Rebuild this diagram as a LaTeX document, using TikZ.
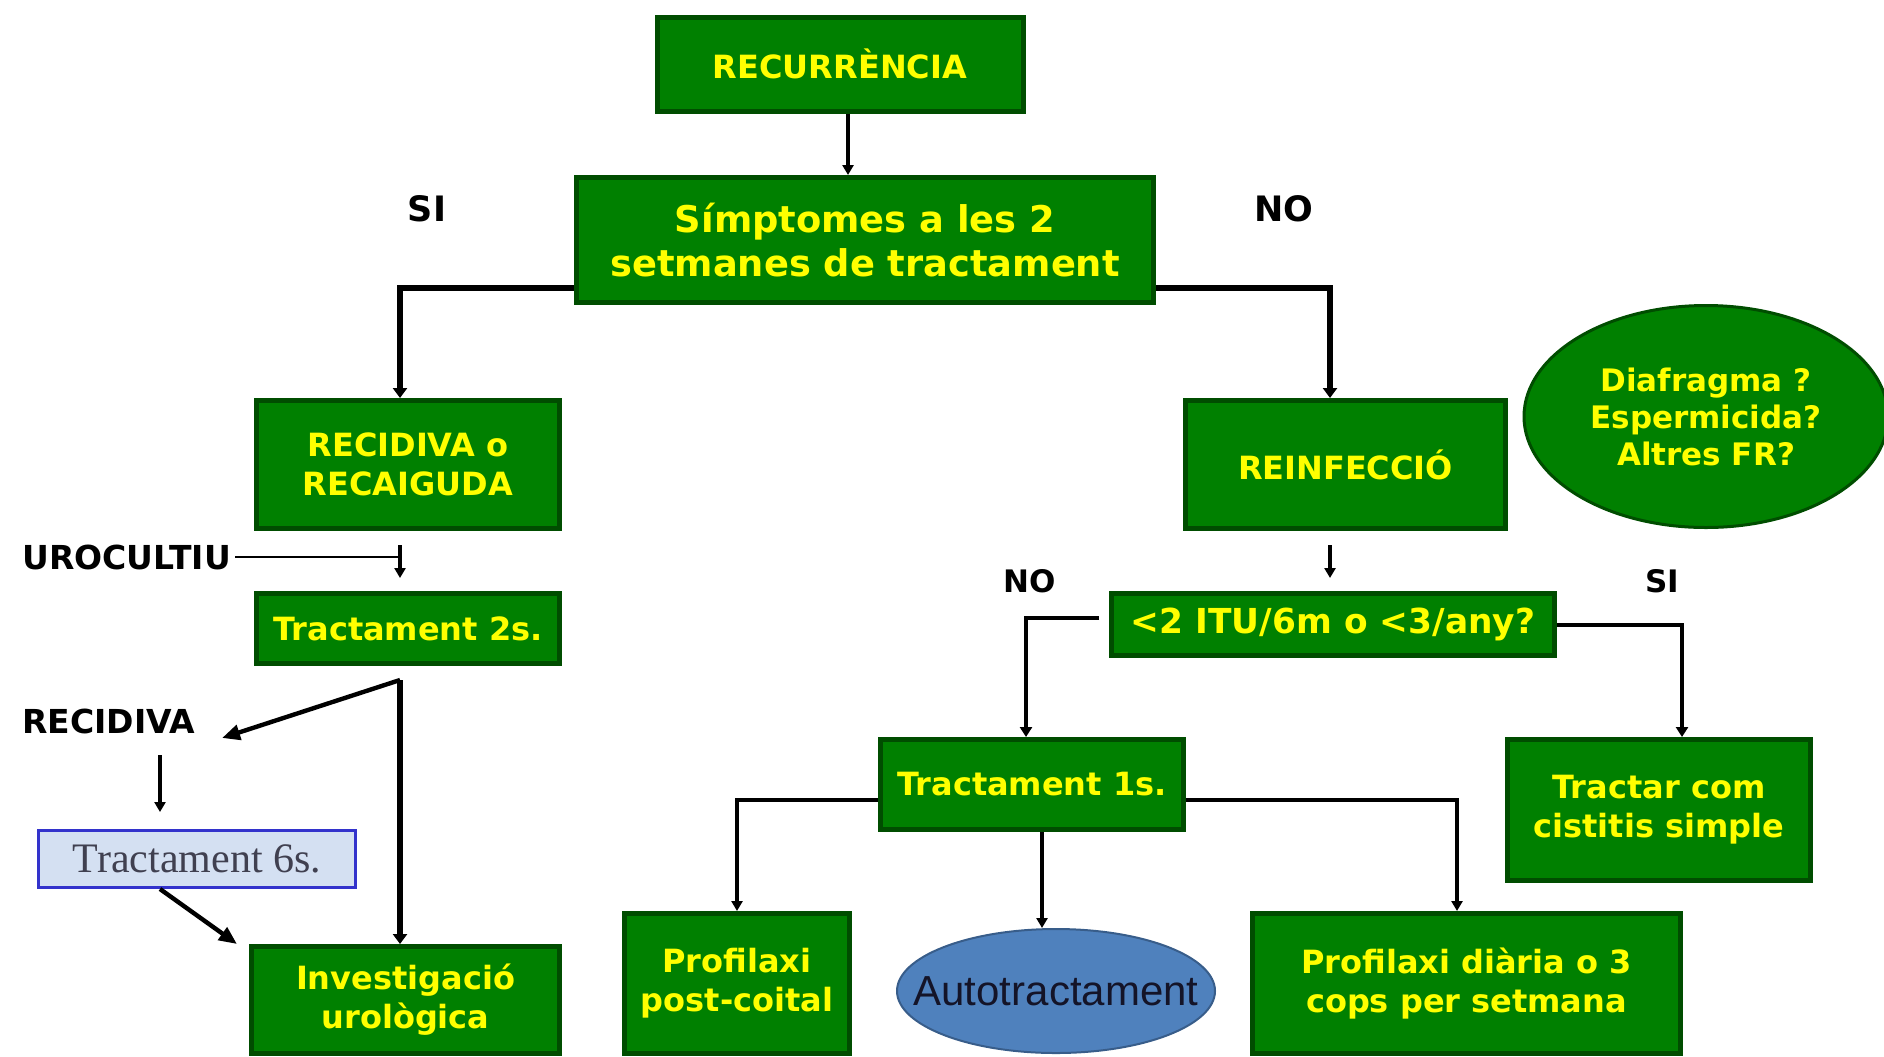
\documentclass[tikz,border=0pt]{standalone}
\usepackage{fontspec}
\setmainfont{DejaVu Sans}
\newfontfamily\serifface{Liberation Serif}
\newfontfamily\arialface{Liberation Sans}
\usetikzlibrary{arrows.meta,shapes.geometric}

\definecolor{boxgreen}{RGB}{0,128,0}
\definecolor{boxedge}{RGB}{0,77,0}
\definecolor{boxtext}{RGB}{255,255,0}
\definecolor{paleblue}{RGB}{212,224,242}
\definecolor{edgeblue}{RGB}{51,51,204}
\definecolor{sixtext}{RGB}{64,64,80}
\definecolor{autoblue}{RGB}{79,129,189}
\definecolor{autoedge}{RGB}{56,93,138}
\definecolor{autotext}{RGB}{20,20,40}

\tikzset{
  greenbox/.style={draw=boxedge,fill=boxgreen,line width=2.5pt,text=boxtext,align=center,inner sep=0pt,
    font=\bfseries\fontsize{16}{19.5}\selectfont},
  sidetext/.style={inner sep=2pt,font=\bfseries\fontsize{16.5}{19}\selectfont},
  conn/.style={line width=1.8pt,-{Triangle[length=5pt,width=5.5pt]}},
  branch/.style={line width=3.2pt,-{Triangle[length=5pt,width=7pt]}},
  midbranch/.style={line width=2.4pt,-{Triangle[length=5pt,width=6pt]}},
  slant/.style={line width=2.2pt,-{Triangle[length=9pt,width=7.5pt]}},
}

\begin{document}
\begin{tikzpicture}[x=0.5pt,y=0.5pt,yscale=-1,xscale=1]
\useasboundingbox (0,0) rectangle (1884,1056);

%Shape: Rectangle
\node [greenbox,minimum width=183pt,minimum height=47pt] (recur) at (840,64) {RECURRÈNCIA};
\node [greenbox,minimum width=288.5pt,minimum height=62.5pt,font=\bfseries\fontsize{18.4}{22}\selectfont] (sympt) at (865,240) {Símptomes a les 2\\setmanes de tractament};
\node [greenbox,minimum width=151.5pt,minimum height=64pt] (recid) at (408,464.5) {RECIDIVA o\\RECAIGUDA};
\node [greenbox,minimum width=160pt,minimum height=64pt] (reinf) at (1345.5,464.5) {REINFECCIÓ};
\node [greenbox,minimum width=151.5pt,minimum height=35pt] (tract2) at (408,628.5) {Tractament 2s.};
\node [greenbox,minimum width=154pt,minimum height=53.5pt] (invest) at (405.5,1000) {Investigació\\urològica};
\node [greenbox,minimum width=221.5pt,minimum height=31pt,font=\bfseries\fontsize{17.2}{20}\selectfont] (itu) at (1333,624.5) {<2 ITU/6m o <3/any?};
\node [greenbox,minimum width=151.5pt,minimum height=45pt] (tract1) at (1032,784.5) {Tractament 1s.};
\node [greenbox,minimum width=151.5pt,minimum height=70.5pt] (cistit) at (1659,810) {Tractar com\\cistitis simple};
\node [greenbox,minimum width=112.5pt,minimum height=70pt] (postc) at (737,983.5) {Profilaxi\\post-coital};
\node [greenbox,minimum width=214pt,minimum height=70pt] (diaria) at (1466.5,983.5) {Profilaxi diària o 3\\cops per setmana};
\node [draw=edgeblue,fill=paleblue,line width=1.5pt,text=sixtext,font=\serifface\fontsize{21}{25}\selectfont,minimum width=158.5pt,minimum height=28.5pt,inner sep=0pt] (tract6) at (197,859) {Tractament 6s.};

%Shape: Ellipse
\node [ellipse,draw=boxedge,fill=boxgreen,line width=1.5pt,text=boxtext,align=center,inner sep=0pt,minimum width=182pt,minimum height=111pt,font=\bfseries\fontsize{15.5}{18.5}\selectfont] (diafr) at (1706,416.5) {Diafragma ?\\Espermicida?\\Altres FR?};
\node [ellipse,draw=autoedge,fill=autoblue,line width=1pt,text=autotext,inner ysep=0pt,inner xsep=-24pt,minimum width=159pt,minimum height=62pt,font=\arialface\fontsize{21}{25}\selectfont] (auto) at (1056,991) {Autotractament};

% Text Node
\node [sidetext,font=\bfseries\fontsize{17.5}{20}\selectfont] (siT) at (427,209) {SI};
\node [sidetext,font=\bfseries\fontsize{17.5}{20}\selectfont] (noT) at (1284,209) {NO};
\node [sidetext,font=\bfseries\fontsize{15.5}{18}\selectfont] (noL) at (1030,581) {NO};
\node [sidetext,font=\bfseries\fontsize{15.5}{18}\selectfont] (siL) at (1662,581) {SI};
\node [sidetext,anchor=west] (uroc) at (18,557) {UROCULTIU};
\node [sidetext,anchor=west] (recidL) at (18,721) {RECIDIVA};

%Straight Lines
\coordinate (jL) at (400,288);
\coordinate (jR) at (1330,288);
\draw [conn] ([xshift=4pt]recur.south) -- ([xshift=4pt]recur.south |- sympt.north);
\draw [branch] (sympt.west |- jL) -- (jL) -- (jL |- recid.north);
\draw [branch] (sympt.east |- jR) -- (jR) -- (jR |- reinf.north);

% left side
\draw [conn,shorten <=7pt,shorten >=6.5pt] (recid.south -| jL) -- (tract2.north -| jL);
\draw [line width=1.2pt] (uroc.east) -- (uroc.east -| jL);
\coordinate (jT) at (400,680);
\coordinate (rA) at (222,738);
\draw [slant] (jT) -- (rA);
\draw [branch] (jT) -- (jT |- invest.north);
\coordinate (kA) at (160,755);
\draw [conn,shorten >=8.5pt] (kA) -- (kA |- tract6.north);
\draw [slant] (tract6.south -| kA) -- ([xshift=-6pt]invest.north west);

% right side
\draw [conn,shorten <=7pt,shorten >=6.5pt] (reinf.south -| jR) -- (itu.north -| jR);
\coordinate (nS) at (1099,618);
\coordinate (jN) at (1026,618);
\draw [midbranch] (nS) -- (jN) -- (jN |- tract1.north);
\coordinate (jS) at (1682,625);
\draw [midbranch] (itu.east |- jS) -- (jS) -- (jS |- cistit.north);
\coordinate (jP) at (736,800);
\draw [conn] (tract1.west |- jP) -| (postc.north);
\coordinate (jD) at (1457,800);
\draw [conn] (tract1.east |- jD) -- (jD) -- (jD |- diaria.north);
\coordinate (jA) at (1042,832);
\draw [conn] (tract1.south -| jA) -- (jA |- auto.north);

\end{tikzpicture}
\end{document}
